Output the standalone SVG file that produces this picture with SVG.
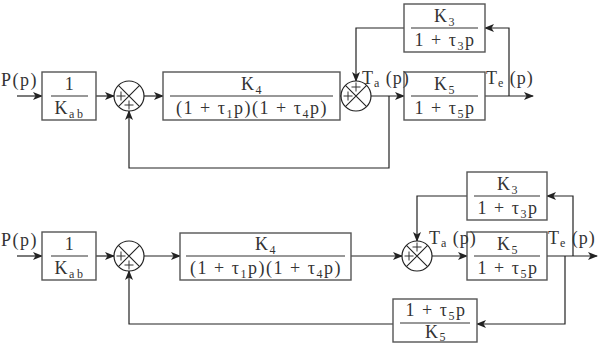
<svg xmlns="http://www.w3.org/2000/svg" width="600" height="344" viewBox="0 0 600 344">
<style>
.b{fill:#fff;stroke:#555;stroke-width:1.4}
.c{fill:none;stroke:#222;stroke-width:1.2}
.f{stroke:#333;stroke-width:1.1}
.s{fill:#fff;stroke:#222;stroke-width:1.2}
.x{stroke:#222;stroke-width:1.1}
.p{stroke:#333;stroke-width:1}
text{font-family:"Liberation Serif","DejaVu Serif",serif;font-size:18px;fill:#333;letter-spacing:1.5px}
.m{text-anchor:middle}
.sub{font-size:12px}
.l{letter-spacing:1px}
</style>
<defs>
<marker id="a" viewBox="0 0 10 8" refX="9" refY="4" markerWidth="10" markerHeight="8" markerUnits="userSpaceOnUse" orient="auto">
<path d="M0,0 L10,4 L0,8 L2.5,4 z" fill="#222"/>
</marker>
</defs>
<rect width="600" height="344" fill="#fff"/>
<g id="connectors">
<path class="c" marker-end="url(#a)" d="M17,96 H42"/>
<path class="c" marker-end="url(#a)" d="M96,96 H114"/>
<path class="c" marker-end="url(#a)" d="M144,96 H163"/>
<path class="c" marker-end="url(#a)" d="M338,96 H350"/>
<path class="c" marker-end="url(#a)" d="M371,96 H404"/>
<path class="c" marker-end="url(#a)" d="M485,96 H533"/>
<path class="c" marker-end="url(#a)" d="M509,96 V28 H485"/>
<path class="c" marker-end="url(#a)" d="M404,28 H356 V81"/>
<path class="c" marker-end="url(#a)" d="M389,96 V168 H129 V111"/>
<path class="c" marker-end="url(#a)" d="M17,256 H42"/>
<path class="c" marker-end="url(#a)" d="M96,256 H114"/>
<path class="c" marker-end="url(#a)" d="M144,256 H180"/>
<path class="c" marker-end="url(#a)" d="M351,256 H402"/>
<path class="c" marker-end="url(#a)" d="M432,256 H467"/>
<path class="c" marker-end="url(#a)" d="M547,256 H597"/>
<path class="c" marker-end="url(#a)" d="M573,256 V196 H547"/>
<path class="c" marker-end="url(#a)" d="M467,196 H417 V241"/>
<path class="c" marker-end="url(#a)" d="M565,256 V324 H477"/>
<path class="c" marker-end="url(#a)" d="M393,324 H129 V271"/>
</g>
<g id="top-b1">
<rect class="b" x="42" y="72" width="54" height="48"/>
<text class="m" x="70" y="90">1</text>
<line class="f" x1="51" y1="96" x2="88" y2="96"/>
<text class="m" x="70" y="114">K<tspan class="sub" dy="4" letter-spacing="2.5">ab</tspan></text>
</g>
<g id="top-s1">
<circle class="s" cx="129" cy="96" r="15"/>
<path class="x" d="M118.4,85.4 L139.6,106.6 M139.6,85.4 L118.4,106.6"/>
<path class="p" d="M116.5,96 h9 M121,91.5 v9 M124.5,105 h9 M129,100.5 v9"/>
</g>
<g id="top-k4">
<rect class="b" x="163" y="72" width="177" height="48"/>
<text class="m" x="252" y="90">K<tspan class="sub" dy="4">4</tspan></text>
<line class="f" x1="170" y1="96" x2="333" y2="96"/>
<text class="m" x="252" y="114">(1 + τ<tspan class="sub" dy="4">1</tspan><tspan dy="-4">p)(1 + τ</tspan><tspan class="sub" dy="4">4</tspan><tspan dy="-4">p)</tspan></text>
</g>
<g id="top-s2">
<circle class="s" cx="356" cy="96" r="15"/>
<path class="x" d="M345.4,85.4 L366.6,106.6 M366.6,85.4 L345.4,106.6"/>
<path class="p" d="M351.5,87 h9 M356,82.5 v9 M343.5,96 h9 M348,91.5 v9"/>
</g>
<g id="top-k5">
<rect class="b" x="404" y="72" width="81" height="48"/>
<text class="m" x="445" y="90">K<tspan class="sub" dy="4">5</tspan></text>
<line class="f" x1="411" y1="96" x2="478" y2="96"/>
<text class="m" x="445" y="114">1 + τ<tspan class="sub" dy="4">5</tspan><tspan dy="-4">p</tspan></text>
</g>
<g id="top-k3">
<rect class="b" x="404" y="4" width="81" height="48"/>
<text class="m" x="445" y="22">K<tspan class="sub" dy="4">3</tspan></text>
<line class="f" x1="411" y1="28" x2="478" y2="28"/>
<text class="m" x="445" y="46">1 + τ<tspan class="sub" dy="4">3</tspan><tspan dy="-4">p</tspan></text>
</g>
<g id="top-input"><text x="1" y="86">P(p)</text></g>
<g id="top-ta"><text class="l" x="362" y="84">T<tspan class="sub" dy="3">a</tspan><tspan dy="-3"> (p)</tspan></text></g>
<g id="top-te"><text class="l" x="486" y="84">T<tspan class="sub" dy="3">e</tspan><tspan dy="-3"> (p)</tspan></text></g>
<g id="bot-b1">
<rect class="b" x="42" y="232" width="54" height="48"/>
<text class="m" x="70" y="250">1</text>
<line class="f" x1="51" y1="256" x2="88" y2="256"/>
<text class="m" x="70" y="274">K<tspan class="sub" dy="4" letter-spacing="2.5">ab</tspan></text>
</g>
<g id="bot-s1">
<circle class="s" cx="129" cy="256" r="15"/>
<path class="x" d="M118.4,245.4 L139.6,266.6 M139.6,245.4 L118.4,266.6"/>
<path class="p" d="M116.5,256 h9 M121,251.5 v9 M124.5,265 h9 M129,260.5 v9"/>
</g>
<g id="bot-k4">
<rect class="b" x="180" y="233" width="171" height="47"/>
<text class="m" x="266" y="250">K<tspan class="sub" dy="4">4</tspan></text>
<line class="f" x1="186" y1="256" x2="345" y2="256"/>
<text class="m" x="266" y="274">(1 + τ<tspan class="sub" dy="4">1</tspan><tspan dy="-4">p)(1 + τ</tspan><tspan class="sub" dy="4">4</tspan><tspan dy="-4">p)</tspan></text>
</g>
<g id="bot-s2">
<circle class="s" cx="417" cy="256" r="15"/>
<path class="x" d="M406.4,245.4 L427.6,266.6 M427.6,245.4 L406.4,266.6"/>
<path class="p" d="M412.5,247 h9 M417,242.5 v9 M404.5,256 h9 M409,251.5 v9"/>
</g>
<g id="bot-k5">
<rect class="b" x="467" y="232" width="80" height="48"/>
<text class="m" x="508" y="250">K<tspan class="sub" dy="4">5</tspan></text>
<line class="f" x1="474" y1="256" x2="540" y2="256"/>
<text class="m" x="508" y="274">1 + τ<tspan class="sub" dy="4">5</tspan><tspan dy="-4">p</tspan></text>
</g>
<g id="bot-k3">
<rect class="b" x="467" y="172" width="80" height="48"/>
<text class="m" x="508" y="190">K<tspan class="sub" dy="4">3</tspan></text>
<line class="f" x1="474" y1="196" x2="540" y2="196"/>
<text class="m" x="508" y="214">1 + τ<tspan class="sub" dy="4">3</tspan><tspan dy="-4">p</tspan></text>
</g>
<g id="bot-fb">
<rect class="b" x="393" y="299" width="84" height="43"/>
<text class="m" x="436" y="316">1 + τ<tspan class="sub" dy="4">5</tspan><tspan dy="-4">p</tspan></text>
<line class="f" x1="400" y1="323" x2="470" y2="323"/>
<text class="m" x="436" y="338">K<tspan class="sub" dy="3">5</tspan></text>
</g>
<g id="bot-input"><text x="1" y="246">P(p)</text></g>
<g id="bot-ta"><text class="l" x="429" y="244">T<tspan class="sub" dy="3">a</tspan><tspan dy="-3"> (p)</tspan></text></g>
<g id="bot-te"><text class="l" x="548" y="244">T<tspan class="sub" dy="3">e</tspan><tspan dy="-3"> (p)</tspan></text></g>
</svg>
